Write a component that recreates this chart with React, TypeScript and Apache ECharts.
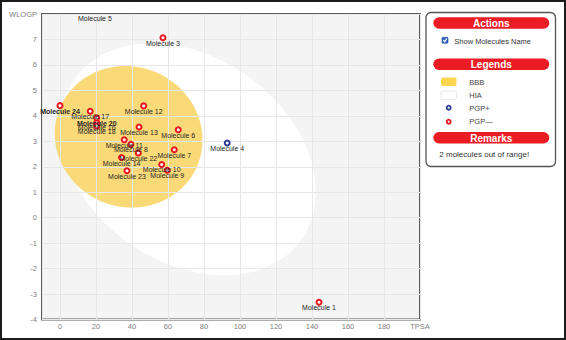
import React, { useEffect, useRef } from "react";
import * as echarts from "echarts";

// ---- Molecules (TPSA, WLOGP) ----
const moleculeNames = [
  "Molecule 1", "Molecule 3", "Molecule 4", "Molecule 6", "Molecule 7", "Molecule 8",
  "Molecule 9", "Molecule 10", "Molecule 11", "Molecule 12", "Molecule 13", "Molecule 14",
  "Molecule 16", "Molecule 17", "Molecule 18", "Molecule 20", "Molecule 22", "Molecule 23",
  "Molecule 24",
];
const moleculeTPSA = [
  143.9, 57.2, 92.9, 65.7, 63.5, 39.4,
  59.6, 56.5, 35.7, 46.5, 43.9, 34.2,
  20.4, 16.8, 20.4, 20.4, 43.5, 37.2,
  0.0,
];
const moleculeWLOGP = [
  -3.32, 7.07, 2.93, 3.45, 2.67, 2.88,
  1.86, 2.09, 3.06, 4.39, 3.56, 2.36,
  3.74, 4.18, 3.60, 3.92, 2.54, 1.84,
  4.40,
];
const moleculePGP = [
  "-", "-", "+", "-", "-", "-",
  "-", "-", "-", "-", "-", "-",
  "-", "-", "-", "-", "-", "-",
  "-",
];

// Out of range molecules (shown clamped at the top edge, no marker)
const outOfRangeNames = ["Molecule 5"];
const outOfRangeTPSA = [19.4];
const outOfRangeWLOGP = [8];

// ---- Egg ellipses (TPSA, WLOGP space) ----
const ellipseNames = ["HIA", "BBB"];
const ellipseCenterTPSA = [71.051, 38.117];
const ellipseCenterWLOGP = [2.292, 3.177];
const ellipseAxisTPSA = [142.081, 82.061];
const ellipseAxisWLOGP = [8.74, 5.557];
const ellipseAngleDeg = [-1.031325, -0.171887];

// ---- Axes ----
const xMin = -10;
const xMax = 200;
const yMin = -4;
const yMax = 8;
const xAxisName = "TPSA";
const yAxisName = "WLOGP";

// ---- Side panel texts ----
const panelTitles = ["Actions", "Legends", "Remarks"];
const checkboxLabel = "Show Molecules Name";
const legendLabels = ["BBB", "HIA", "PGP+", "PGP—"];
const remarkText = "2 molecules out of range!";

const boldLabels = ["Molecule 20", "Molecule 24"];

const RED = "#e8171f";
const BLUE = "#2b3a94";
const YOLK = "#fad978";
const LABEL = "#262626";
const FONT = "'Liberation Sans', Arial, sans-serif";

export default function App() {
  const ref = useRef<HTMLDivElement>(null);

  useEffect(() => {
    if (!ref.current) return;
    const chart = echarts.init(ref.current, undefined, { renderer: "svg" });

    const ellipseData = ellipseNames.map((n, i) => ({
      name: n,
      value: [
        ellipseCenterTPSA[i],
        ellipseCenterWLOGP[i],
        ellipseAxisTPSA[i],
        ellipseAxisWLOGP[i],
        ellipseAngleDeg[i],
      ],
    }));
    const ellipseFill = ["#ffffff", YOLK];

    const makePoints = (sign: string) =>
      moleculeNames
        .map((n, i) => ({ n, i }))
        .filter((o) => moleculePGP[o.i] === sign)
        .map(({ n, i }) => ({
          name: n,
          value: [moleculeTPSA[i], moleculeWLOGP[i]],
          label: boldLabels.includes(n) ? { fontWeight: "bold" } : undefined,
        }));

    const labelCfg = {
      show: true,
      formatter: "{b}",
      position: "inside",
      offset: [0, 5.5],
      color: LABEL,
      fontSize: 7,
      fontFamily: FONT,
    };

    const panelX = 426;
    const pillX = 433.3;
    const pillW = 116;
    const pillH = 11.5;
    const pillYs = [17.3, 58.5, 132];

    const graphic: any[] = [
      {
        type: "rect",
        shape: { x: panelX, y: 12.5, width: 129.5, height: 154, r: 5 },
        style: { fill: "#fff", stroke: "#555", lineWidth: 1.3 },
        silent: true,
      },
      ...panelTitles.flatMap((t, i) => [
        {
          type: "rect",
          shape: { x: pillX, y: pillYs[i], width: pillW, height: pillH, r: 5.75 },
          style: { fill: "#ec1c24" },
          silent: true,
        },
        {
          type: "text",
          x: pillX + pillW / 2,
          y: pillYs[i] + pillH / 2 + 0.3,
          style: {
            text: t,
            fill: "#fff",
            fontSize: 10,
            fontWeight: "bold",
            fontFamily: FONT,
            align: "center",
            verticalAlign: "middle",
          },
          silent: true,
        },
      ]),
      // checkbox
      {
        type: "rect",
        shape: { x: 442, y: 37.3, width: 6, height: 6, r: 1 },
        style: { fill: "#2f66c9", stroke: "#234a96", lineWidth: 0.6 },
        silent: true,
      },
      {
        type: "polyline",
        shape: { points: [[443.3, 40.2], [444.6, 41.7], [446.8, 38.7]] },
        style: { stroke: "#fff", lineWidth: 1.2, fill: "none" },
        silent: true,
      },
      {
        type: "text",
        x: 454.3,
        y: 41.5,
        style: { text: checkboxLabel, fill: "#333", fontSize: 7.5, fontFamily: FONT, verticalAlign: "middle" },
        silent: true,
      },
      // legend swatches
      {
        type: "rect",
        shape: { x: 441, y: 77.5, width: 15.5, height: 8.5, r: 2 },
        style: { fill: "#fdd64f" },
        silent: true,
      },
      {
        type: "rect",
        shape: { x: 441, y: 91, width: 15.5, height: 8.5, r: 2 },
        style: { fill: "#fff", stroke: "#e2e2e2", lineWidth: 0.8 },
        silent: true,
      },
      {
        type: "circle",
        shape: { cx: 448.7, cy: 107.7, r: 2 },
        style: { fill: "#fff", stroke: BLUE, lineWidth: 1.8 },
        silent: true,
      },
      {
        type: "circle",
        shape: { cx: 448.7, cy: 121.7, r: 2 },
        style: { fill: "#fff", stroke: RED, lineWidth: 1.8 },
        silent: true,
      },
      ...legendLabels.map((t, i) => ({
        type: "text",
        x: 469.3,
        y: [82, 95.5, 108, 121.7][i],
        style: { text: t, fill: "#444", fontSize: 7.5, fontFamily: FONT, verticalAlign: "middle" },
        silent: true,
      })),
      {
        type: "text",
        x: 439.3,
        y: 154,
        style: { text: remarkText, fill: "#333", fontSize: 8, fontFamily: FONT, verticalAlign: "middle" },
        silent: true,
      },
      // outer frame
      {
        type: "rect",
        shape: { x: 1, y: 1, width: 564, height: 338 },
        style: { fill: "none", stroke: "#1b1b1b", lineWidth: 2 },
        z: 100,
        silent: true,
      },
    ];

    chart.setOption({
      animation: false,
      backgroundColor: "#fff",
      textStyle: { fontFamily: FONT },
      grid: {
        left: 42,
        right: 146,
        top: 14,
        bottom: 20.5,
        show: true,
        backgroundColor: "#f4f4f4",
        borderColor: "#5c5c5c",
        borderWidth: 2,
      },
      xAxis: {
        type: "value",
        min: xMin,
        max: xMax,
        splitNumber: 10,
        z: 3,
        axisLine: { show: false },
        axisTick: { show: false },
        splitLine: { show: true, lineStyle: { color: "#e6e7eb", width: 1 } },
        axisLabel: {
          color: "#808080",
          fontSize: 7.5,
          fontFamily: FONT,
          margin: 3,
          formatter: (v: number) => (v === xMax ? xAxisName : v === xMin ? "" : String(v)),
        },
      },
      yAxis: {
        type: "value",
        min: yMin,
        max: yMax,
        interval: 1,
        z: 3,
        axisLine: { show: false },
        axisTick: { show: false },
        splitLine: { show: true, lineStyle: { color: "#e6e7eb", width: 1 } },
        axisLabel: {
          color: "#808080",
          fontSize: 7.5,
          fontFamily: FONT,
          margin: 5,
          formatter: (v: number) => (v === yMax ? yAxisName : String(v)),
        },
      },
      graphic,
      series: [
        {
          type: "custom",
          name: "egg",
          z: 1,
          silent: true,
          encode: { x: 0, y: 1 },
          data: ellipseData,
          renderItem: (params: any, api: any) => {
            const cx = api.value(0);
            const cy = api.value(1);
            const a = api.value(2) / 2;
            const b = api.value(3) / 2;
            const th = (api.value(4) * Math.PI) / 180;
            const pts: number[][] = [];
            const N = 180;
            for (let k = 0; k < N; k++) {
              const t = (2 * Math.PI * k) / N;
              const x = cx + a * Math.cos(t) * Math.cos(th) - b * Math.sin(t) * Math.sin(th);
              const y = cy + a * Math.cos(t) * Math.sin(th) + b * Math.sin(t) * Math.cos(th);
              pts.push(api.coord([x, y]));
            }
            return {
              type: "polygon",
              shape: { points: pts },
              style: { fill: ellipseFill[params.dataIndex], stroke: "none" },
            };
          },
        },
        {
          type: "scatter",
          name: "PGP-",
          z: 5,
          symbol: "circle",
          symbolSize: 5,
          itemStyle: { color: "#fff", borderColor: RED, borderWidth: 2, opacity: 1 },
          label: labelCfg,
          data: makePoints("-"),
        },
        {
          type: "scatter",
          name: "PGP+",
          z: 5,
          symbol: "circle",
          symbolSize: 5,
          itemStyle: { color: "#fff", borderColor: BLUE, borderWidth: 2, opacity: 1 },
          label: labelCfg,
          data: makePoints("+"),
        },
        {
          type: "scatter",
          name: "out of range",
          z: 5,
          clip: false,
          symbol: "circle",
          symbolSize: 1,
          itemStyle: { color: "rgba(255,255,255,0)", borderWidth: 0 },
          label: { ...labelCfg, offset: [0, 4], color: LABEL, opacity: 1 },
          data: outOfRangeNames.map((n, i) => ({ name: n, value: [outOfRangeTPSA[i], outOfRangeWLOGP[i]] })),
        },
      ],
    });

    return () => chart.dispose();
  }, []);

  return (
    <div
      ref={ref}
      style={{ position: "absolute", left: 0, top: 0, width: 566, height: 340 }}
    />
  );
}
